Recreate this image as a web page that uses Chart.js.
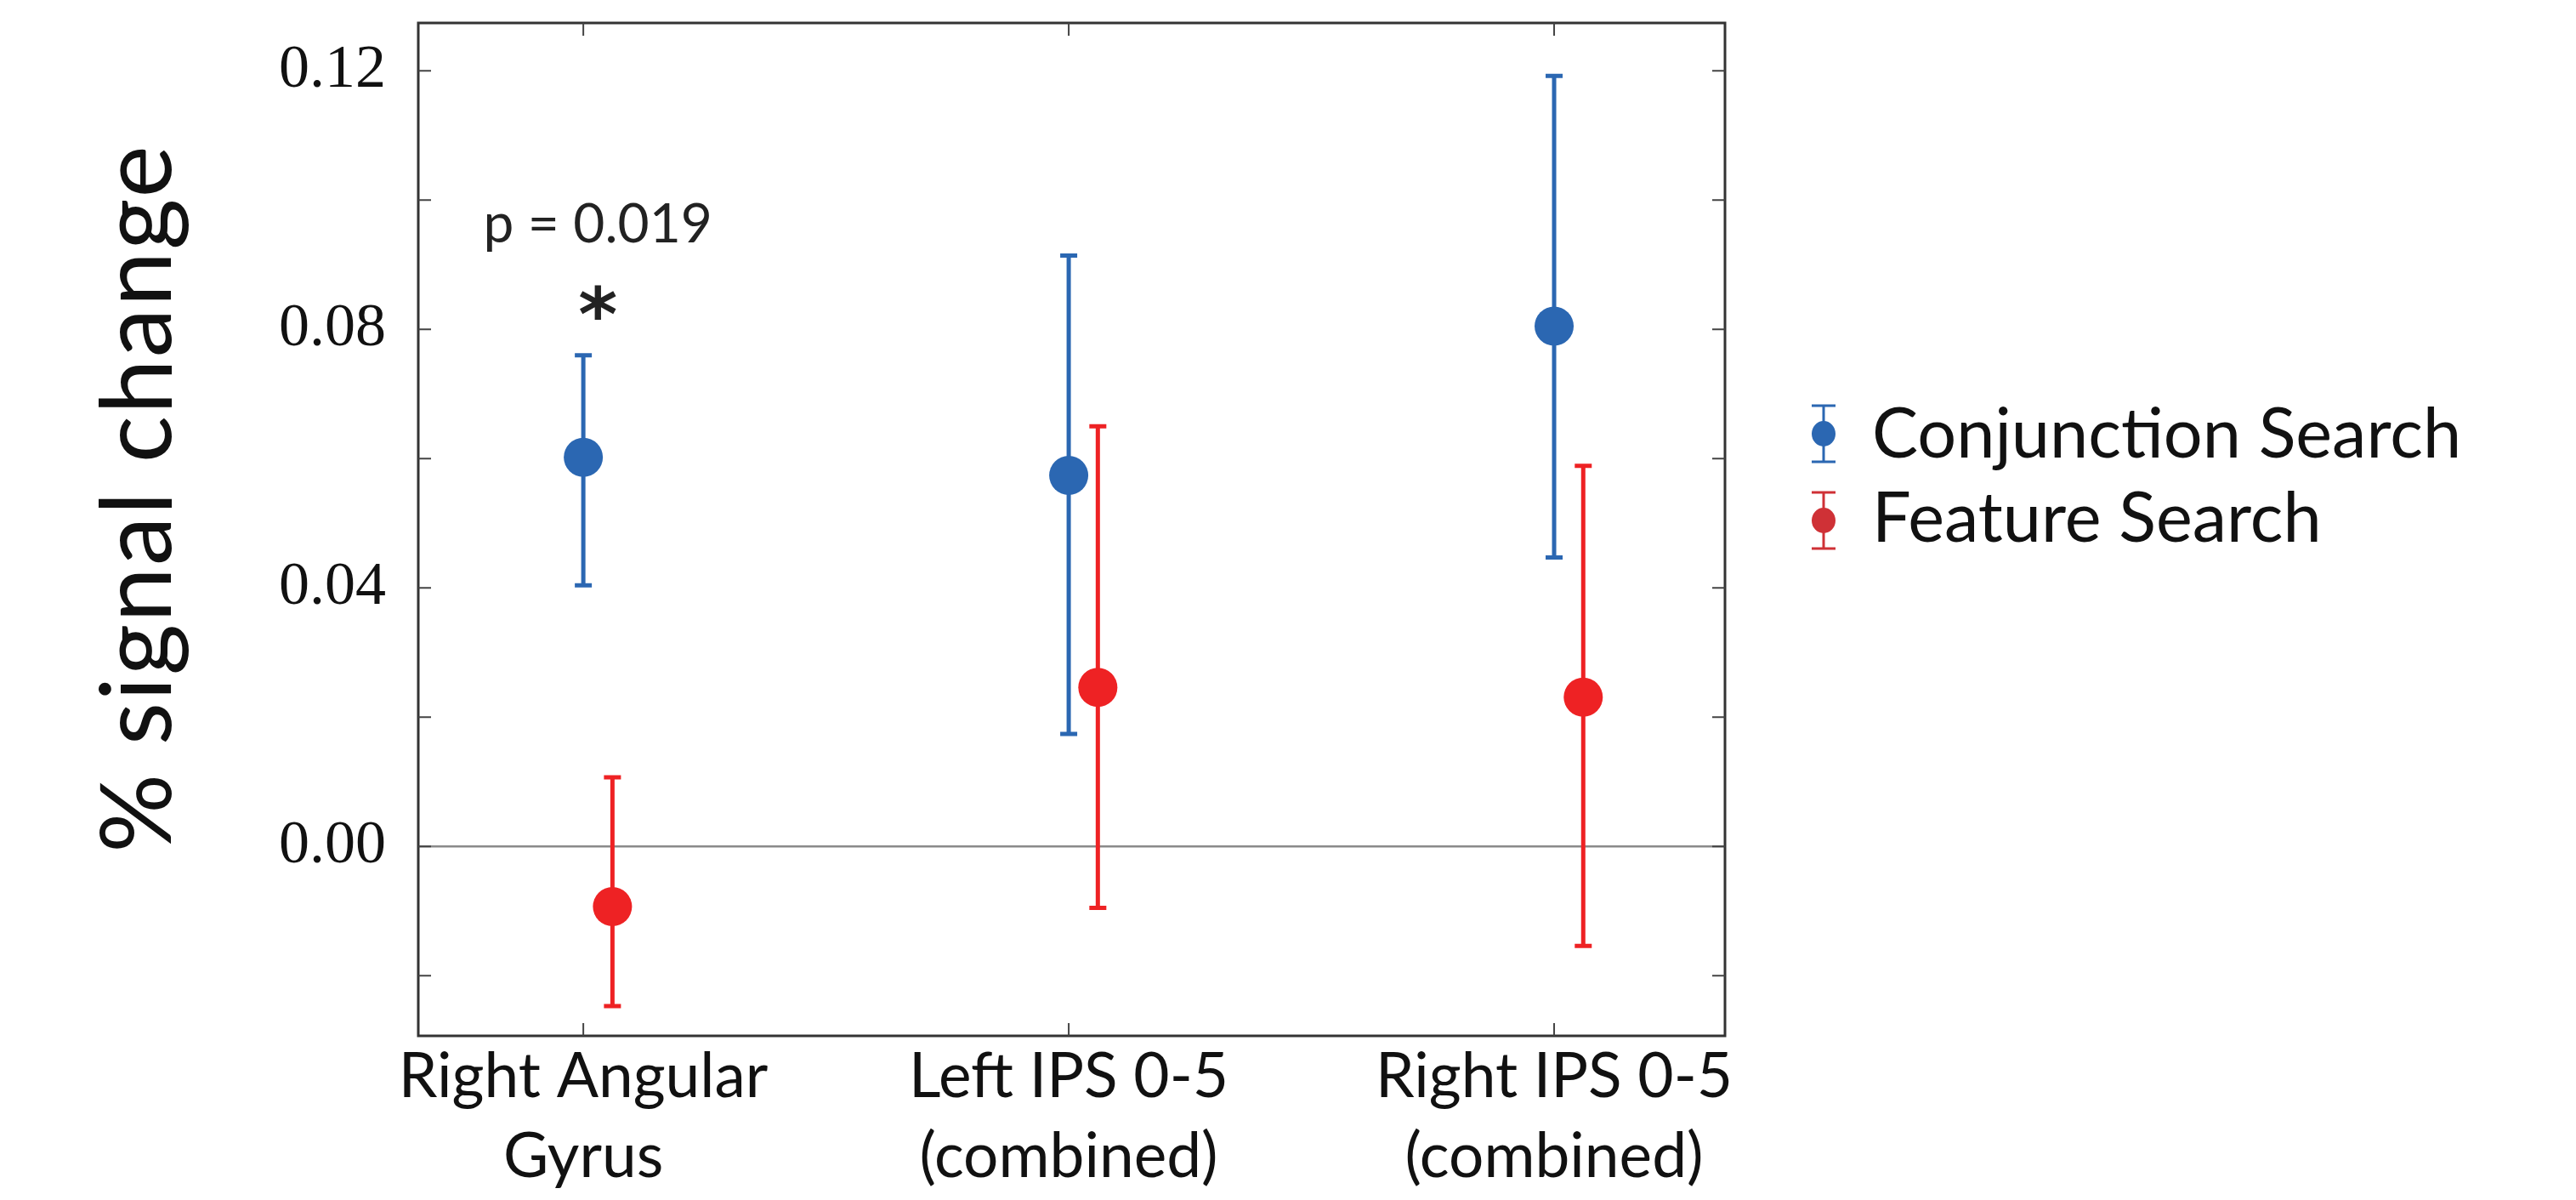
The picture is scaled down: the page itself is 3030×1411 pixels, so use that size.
<!DOCTYPE html>
<html>
<head>
<meta charset="utf-8">
<script src="https://cdn.jsdelivr.net/npm/chart.js@4.4.1/dist/chart.umd.min.js"></script>
<style>
  html, body { margin: 0; padding: 0; background: #fff; }
</style>
</head>
<body>
<canvas id="chart" width="3030" height="1411"></canvas>
<script>
// values
const categories = [['Right Angular', 'Gyrus'], ['Left IPS 0-5', '(combined)'], ['Right IPS 0-5', '(combined)']]
const conjMean = [0.0602, 0.0574, 0.0805]
const conjLow = [0.0404, 0.0174, 0.0447]
const conjHigh = [0.0760, 0.0914, 0.1192]
const featMean = [-0.0093, 0.0246, 0.0231]
const featLow = [-0.0247, -0.0095, -0.0154]
const featHigh = [0.0107, 0.0650, 0.0589]
const yTicks = [-0.02, 0, 0.02, 0.04, 0.06, 0.08, 0.10, 0.12]
const yLabels = ['', '0.00', '', '0.04', '', '0.08', '', '0.12']
const pText = 'p = 0.019'
const pPos = { x: 1.03, y: 0.0962 }
const starPos = { x: 1.03, y: 0.0829 }

const BLUE = '#2b67b2'
const RED = '#ee2224'
const SANS = 'Lato'
const dodge = 0.06

const errorBars = {
  id: 'errorBars',
  beforeDatasetsDraw(chart) {
    const { ctx, chartArea, scales: { x, y } } = chart
    // zero line
    const y0 = y.getPixelForValue(0)
    ctx.save()
    ctx.strokeStyle = '#8a8a8a'
    ctx.lineWidth = 2.5
    ctx.beginPath()
    ctx.moveTo(chartArea.left, y0)
    ctx.lineTo(chartArea.right, y0)
    ctx.stroke()
    chart.data.datasets.forEach(ds => {
      ctx.strokeStyle = ds.backgroundColor
      ctx.lineWidth = 5
      ds.data.forEach((p, i) => {
        const px = x.getPixelForValue(p.x)
        const top = y.getPixelForValue(ds.high[i])
        const bot = y.getPixelForValue(ds.low[i])
        ctx.beginPath()
        ctx.moveTo(px, top); ctx.lineTo(px, bot)
        ctx.moveTo(px - 10, top); ctx.lineTo(px + 10, top)
        ctx.moveTo(px - 10, bot); ctx.lineTo(px + 10, bot)
        ctx.stroke()
      })
    })
    ctx.restore()
  }
}

const frame = {
  id: 'frame',
  afterDraw(chart) {
    const { ctx, chartArea: a, scales: { x, y } } = chart
    ctx.save()
    ctx.strokeStyle = '#333'
    ctx.lineWidth = 3
    ctx.strokeRect(a.left, a.top, a.right - a.left, a.bottom - a.top)
    ctx.lineWidth = 2
    ctx.strokeStyle = '#444'
    ctx.beginPath()
    yTicks.forEach(v => {
      const py = y.getPixelForValue(v)
      ctx.moveTo(a.left, py); ctx.lineTo(a.left + 15, py)
      ctx.moveTo(a.right, py); ctx.lineTo(a.right - 15, py)
    })
    categories.forEach((c, i) => {
      const px = x.getPixelForValue(i + 1)
      ctx.moveTo(px, a.top); ctx.lineTo(px, a.top + 15)
      ctx.moveTo(px, a.bottom); ctx.lineTo(px, a.bottom - 15)
    })
    ctx.stroke()

    // significance note
    ctx.fillStyle = '#222'
    ctx.textAlign = 'center'
    ctx.textBaseline = 'middle'
    ctx.font = '64px ' + SANS
    ctx.fillText(pText, x.getPixelForValue(pPos.x), y.getPixelForValue(pPos.y))
    ctx.font = 'bold 88px "DejaVu Sans"'
    ctx.fillText('*', x.getPixelForValue(starPos.x), y.getPixelForValue(starPos.y) + 12)

    // y title
    ctx.save()
    ctx.translate(201, 586)
    ctx.rotate(-Math.PI / 2)
    ctx.textBaseline = 'alphabetic'
    ctx.font = '116px ' + SANS
    ctx.letterSpacing = '2px'
    ctx.fillStyle = '#111'
    ctx.fillText('% signal change', 0, 0)
    ctx.restore()

    // legend
    const items = [
      { label: chart.data.datasets[0].label, color: BLUE, cy: 510, base: 538 },
      { label: chart.data.datasets[1].label, color: '#cf3136', cy: 612, base: 637 },
    ]
    items.forEach(it => {
      const mx = 2145
      ctx.strokeStyle = it.color
      ctx.fillStyle = it.color
      ctx.lineWidth = 3
      ctx.beginPath()
      ctx.moveTo(mx, it.cy - 33); ctx.lineTo(mx, it.cy + 33)
      ctx.moveTo(mx - 14, it.cy - 33); ctx.lineTo(mx + 14, it.cy - 33)
      ctx.moveTo(mx - 14, it.cy + 33); ctx.lineTo(mx + 14, it.cy + 33)
      ctx.stroke()
      ctx.beginPath()
      ctx.ellipse(mx, it.cy, 14, 15, 0, 0, Math.PI * 2)
      ctx.fill()
      ctx.fillStyle = '#111'
      ctx.textAlign = 'left'
      ctx.textBaseline = 'alphabetic'
      ctx.font = '81px ' + SANS
      ctx.fillText(it.label, 2202, it.base)
    })
    ctx.restore()
  }
}

new Chart(document.getElementById('chart'), {
  type: 'scatter',
  data: {
    datasets: [
      {
        label: 'Conjunction Search',
        data: conjMean.map((v, i) => ({ x: i + 1, y: v })),
        low: conjLow,
        high: conjHigh,
        backgroundColor: BLUE,
        pointRadius: 23,
        pointBorderWidth: 0,
      },
      {
        label: 'Feature Search',
        data: featMean.map((v, i) => ({ x: i + 1 + dodge, y: v })),
        low: featLow,
        high: featHigh,
        backgroundColor: RED,
        pointRadius: 23,
        pointBorderWidth: 0,
      },
    ],
  },
  options: {
    responsive: false,
    animation: false,
    devicePixelRatio: 1,
    layout: { padding: { top: 27, right: 1001, bottom: 0, left: 0 } },
    plugins: { legend: { display: false }, tooltip: { enabled: false } },
    scales: {
      x: {
        type: 'linear',
        min: 0.66,
        max: 3.352,
        afterBuildTicks: s => { s.ticks = categories.map((c, i) => ({ value: i + 1 })) },
        afterFit: s => { s.height = 193; s.paddingLeft = 0; s.paddingRight = 0 },
        grid: { display: false, drawTicks: false },
        border: { display: false },
        ticks: {
          callback: (v, i) => categories[i],
          font: { family: SANS, size: 73, lineHeight: 1.28 },
          color: '#111',
          padding: 2,
          maxRotation: 0,
          autoSkip: false,
        },
      },
      y: {
        min: -0.0293,
        max: 0.1274,
        afterBuildTicks: s => { s.ticks = yTicks.map(v => ({ value: v })) },
        afterFit: s => { s.width = 492; s.paddingTop = 0; s.paddingBottom = 0 },
        grid: { display: false, drawTicks: false },
        border: { display: false },
        ticks: {
          callback: (v, i) => yLabels[i],
          font: { family: 'Liberation Serif', size: 72 },
          color: '#111',
          padding: 38,
        },
      },
    },
  },
  plugins: [errorBars, frame],
})
</script>
</body>
</html>
